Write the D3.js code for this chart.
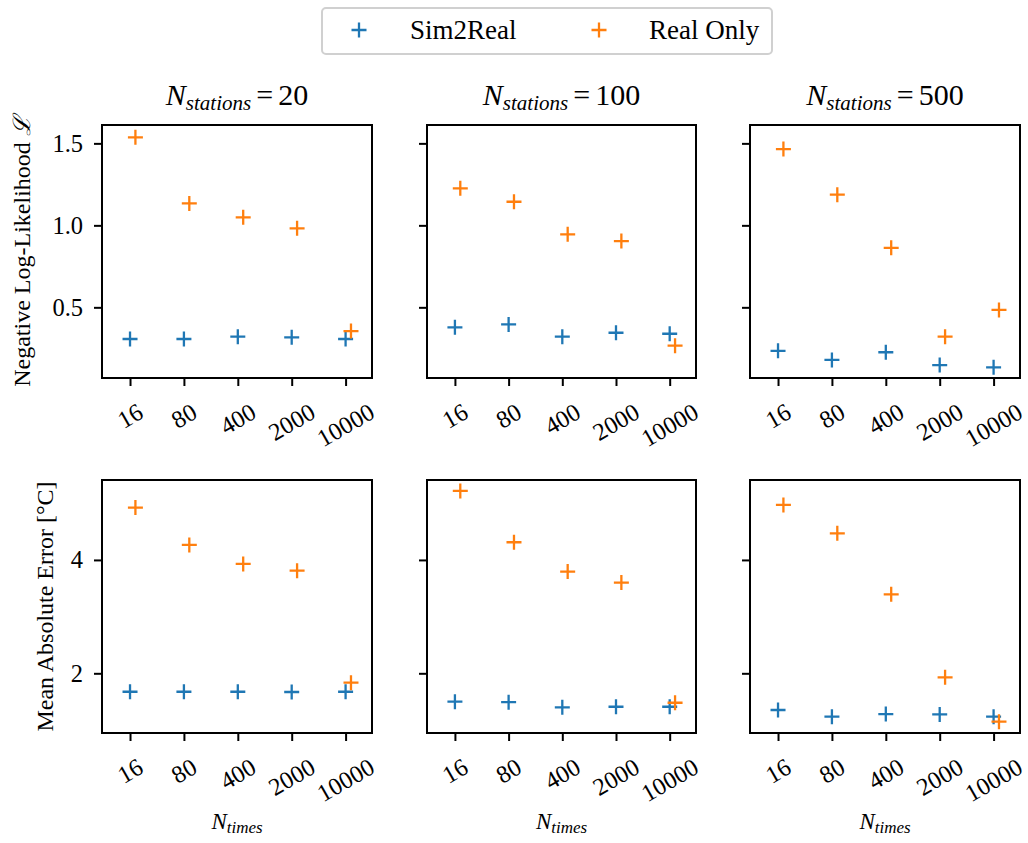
<!DOCTYPE html>
<html>
<head>
<meta charset="utf-8">
<script src="https://cdn.jsdelivr.net/npm/d3@7"></script>
<style>
  html, body { margin: 0; padding: 0; background: #fff; }
  svg { display: block; }
  text { font-family: "Liberation Serif", "Times New Roman", serif; fill: #000; }
</style>
</head>
<body>
<svg id="chart" width="1028" height="843"></svg>
<script>
// Training-set sizes (x categories) and station counts (one column each)
const nTimes = ["16", "80", "400", "2000", "10000"];
const nStations = [20, 100, 500];
const seriesNames = ["Sim2Real", "Real Only"];

// Negative log-likelihood, one array per station count
const nllSim2Real = [
  [0.307, 0.307, 0.321, 0.317, 0.307],
  [0.378, 0.396, 0.321, 0.345, 0.339],
  [0.235, 0.179, 0.226, 0.148, 0.134]
];
const nllRealOnly = [
  [1.537, 1.134, 1.049, 0.982, 0.355],
  [1.226, 1.144, 0.945, 0.904, 0.266],
  [1.465, 1.187, 0.863, 0.321, 0.484]
];

// Mean absolute error in °C
const maeSim2Real = [
  [1.675, 1.675, 1.675, 1.670, 1.675],
  [1.499, 1.490, 1.400, 1.410, 1.410],
  [1.353, 1.235, 1.280, 1.275, 1.235]
];
const maeRealOnly = [
  [4.923, 4.265, 3.929, 3.811, 1.834],
  [5.218, 4.312, 3.794, 3.600, 1.481],
  [4.970, 4.470, 3.394, 1.929, 1.146]
];

const nllTicks = [0.5, 1.0, 1.5];
const maeTicks = [2, 4];

const colors = ["#1f77b4", "#ff7f0e"];
const realOnlyShift = 0.1;   // Real Only markers sit slightly right of each tick

const svg = d3.select("#chart");
const serif = "Liberation Serif";

// panel geometry
const cols = [[102, 372], [427, 696], [750, 1020]];
const rows = [
  { top: 125, bottom: 378, domain: [0.069, 1.612], ticks: nllTicks,
    fmt: d3.format(".1f"), data: [nllSim2Real, nllRealOnly],
    label: "Negative Log-Likelihood ", script: "ℒ", labelX: 22 },
  { top: 480, bottom: 733, domain: [0.947, 5.41], ticks: maeTicks,
    fmt: d3.format("d"), data: [maeSim2Real, maeRealOnly],
    label: "Mean Absolute Error [°C]", script: null, labelX: 45 }
];

const tickLen = 8;
const tickFont = 24.5;
const plusPath = "M-7.5,0H7.5M0,-7.5V7.5";

rows.forEach((row, ri) => {
  const y = d3.scaleLinear().domain(row.domain).range([row.bottom, row.top]);

  cols.forEach((c, ci) => {
    const x = d3.scaleLinear().domain([-0.52, 4.49]).range(c);
    const g = svg.append("g");

    // y ticks (labels only on the first column)
    const yAxis = d3.axisLeft(y).tickValues(row.ticks).tickSize(tickLen).tickPadding(11)
      .tickFormat(ci === 0 ? row.fmt : () => "");
    const ya = g.append("g").attr("transform", `translate(${c[0]},0)`).call(yAxis);
    ya.attr("font-family", serif).attr("font-size", tickFont);
    ya.select(".domain").remove();
    ya.selectAll(".tick line").attr("stroke", "#000").attr("stroke-width", 2);
    ya.selectAll(".tick text").attr("fill", "#000");

    // x ticks with rotated, centred labels
    const xAxis = d3.axisBottom(x).tickValues(d3.range(nTimes.length)).tickSize(tickLen)
      .tickFormat(() => "");
    const xa = g.append("g").attr("transform", `translate(0,${row.bottom})`).call(xAxis);
    xa.select(".domain").remove();
    xa.selectAll(".tick line").attr("stroke", "#000").attr("stroke-width", 2);

    nTimes.forEach((lab, i) => {
      const t = g.append("text")
        .attr("text-anchor", "middle")
        .attr("dominant-baseline", "central")
        .attr("font-family", serif)
        .style("font-size", tickFont + "px")
        .text(lab);
      const w = t.node().getComputedTextLength();
      const h = tickFont * 0.9;
      const rotH = w * 0.5 + h * 0.866;
      const cy = row.bottom + 22 + rotH / 2;
      t.attr("transform", `translate(${x(i)},${cy}) rotate(-30)`);
    });

    // markers: Sim2Real first, Real Only drawn over it
    row.data.forEach((series, si) => {
      g.append("g").selectAll("path")
        .data(series[ci])
        .join("path")
        .attr("d", plusPath)
        .attr("transform", (v, i) => `translate(${x(i + (si === 1 ? realOnlyShift : 0))},${y(v)})`)
        .attr("fill", "none")
        .attr("stroke", colors[si])
        .attr("stroke-width", 2.3);
    });

    // frame
    g.append("rect")
      .attr("x", c[0]).attr("y", row.top)
      .attr("width", c[1] - c[0]).attr("height", row.bottom - row.top)
      .attr("fill", "none").attr("stroke", "#000").attr("stroke-width", 2);

    // column titles above the first row
    if (ri === 0) {
      const title = svg.append("text")
        .attr("x", (c[0] + c[1]) / 2).attr("y", 105)
        .attr("text-anchor", "middle");
      title.append("tspan").style("font-style", "italic").style("font-size", "30px").text("N");
      title.append("tspan").style("font-style", "italic").style("font-size", "21px")
        .attr("dy", 5).text("stations");
      title.append("tspan").style("font-size", "30px").attr("dy", -5).attr("dx", 5).text("=");
      title.append("tspan").style("font-size", "30px").attr("dx", 5).text(String(nStations[ci]));
    }

    // x label below the second row
    if (ri === 1) {
      const xl = svg.append("text")
        .attr("x", (c[0] + c[1]) / 2).attr("y", 829)
        .attr("text-anchor", "middle");
      xl.append("tspan").style("font-style", "italic").style("font-size", "23px").text("N");
      xl.append("tspan").style("font-style", "italic").style("font-size", "17px")
        .attr("dy", 4).text("times");
    }
  });

  // row y label
  const yl = svg.append("text")
    .attr("transform", `translate(${row.labelX},${(row.top + row.bottom) / 2}) rotate(-90)`)
    .attr("text-anchor", "middle")
    .attr("dominant-baseline", "central")
    .style("font-size", "24px");
  yl.append("tspan").text(row.label);
  if (row.script) yl.append("tspan").style("font-style", "italic").text(row.script);
});

// legend
const legend = svg.append("g");
legend.append("rect")
  .attr("x", 322).attr("y", 8).attr("width", 450).attr("height", 46)
  .attr("rx", 4).attr("fill", "#fff").attr("stroke", "#d0d0d0").attr("stroke-width", 2);
const legendX = [[359, 410], [599, 649]];
seriesNames.forEach((name, i) => {
  legend.append("path")
    .attr("d", plusPath)
    .attr("transform", `translate(${legendX[i][0]},30)`)
    .attr("fill", "none").attr("stroke", colors[i]).attr("stroke-width", 2.3);
  legend.append("text")
    .attr("x", legendX[i][1]).attr("y", 30)
    .attr("dominant-baseline", "central")
    .style("font-size", "27px")
    .text(name);
});
</script>
</body>
</html>
